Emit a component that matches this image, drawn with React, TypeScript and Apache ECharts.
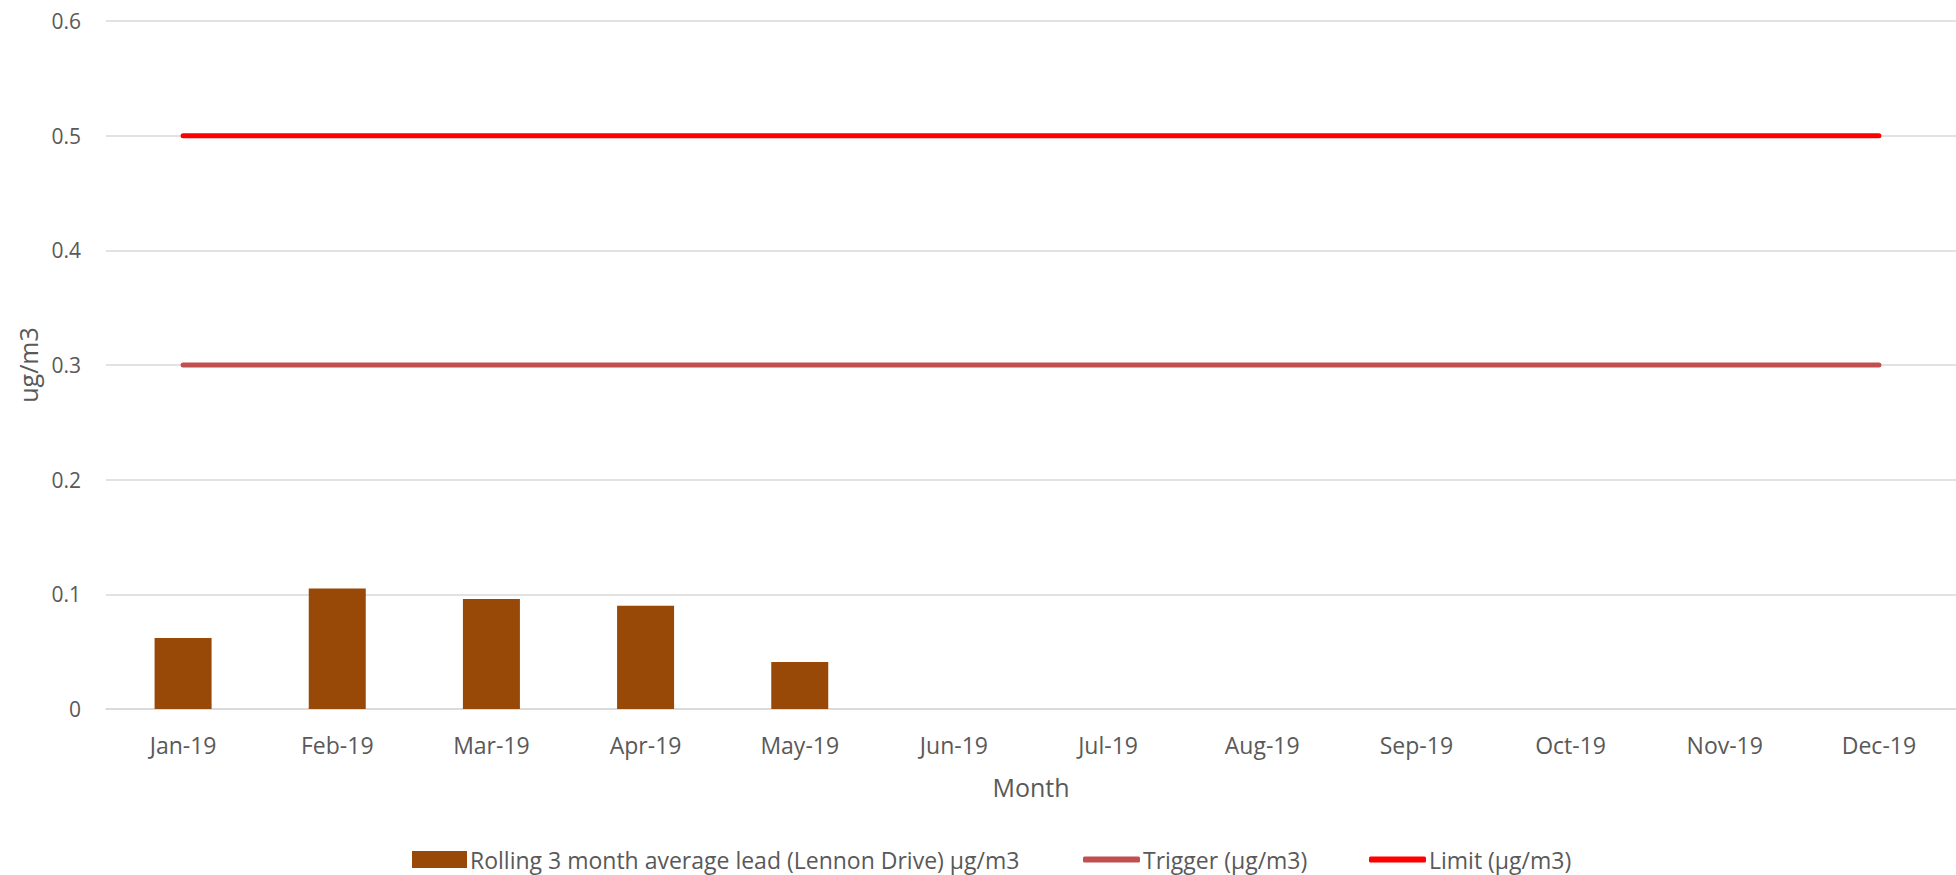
import React, { useEffect, useRef } from "react";
import * as echarts from "echarts";

const months = ["Jan-19", "Feb-19", "Mar-19", "Apr-19", "May-19", "Jun-19", "Jul-19", "Aug-19", "Sep-19", "Oct-19", "Nov-19", "Dec-19"];
const rollingLead = [0.062, 0.105, 0.096, 0.09, 0.041, null, null, null, null, null, null, null];
const trigger = [0.3, 0.3, 0.3, 0.3, 0.3, 0.3, 0.3, 0.3, 0.3, 0.3, 0.3, 0.3];
const limit = [0.5, 0.5, 0.5, 0.5, 0.5, 0.5, 0.5, 0.5, 0.5, 0.5, 0.5, 0.5];
const seriesNames = [
  "Rolling 3 month average lead (Lennon Drive) μg/m3",
  "Trigger (μg/m3)",
  "Limit (μg/m3)",
];

const FONT = "'Open Sans', 'Noto Sans', sans-serif";
const TXT = "#595959";

const legendText = { color: TXT, fontSize: 23, fontFamily: FONT, padding: [0, 0, 0, -2] };

export default function App() {
  const ref = useRef<HTMLDivElement>(null);
  useEffect(() => {
    if (!ref.current) return;
    const chart = echarts.init(ref.current, undefined, { renderer: "svg" });
    chart.setOption({
      animation: false,
      textStyle: { fontFamily: FONT },
      grid: { left: 106, right: -10, top: 21, bottom: 166 },
      legend: [
        {
          data: [{ name: seriesNames[0], icon: "rect" }],
          left: 407,
          top: 843,
          itemWidth: 55,
          itemHeight: 17,
          textStyle: legendText,
        },
        {
          data: [{ name: seriesNames[1], icon: "roundRect" }],
          left: 1078,
          top: 843,
          itemWidth: 57,
          itemHeight: 6,
          textStyle: legendText,
        },
        {
          data: [{ name: seriesNames[2], icon: "roundRect" }],
          left: 1364,
          top: 843,
          itemWidth: 57,
          itemHeight: 6,
          textStyle: legendText,
        },
      ],
      xAxis: {
        type: "category",
        data: months,
        name: "Month",
        nameLocation: "middle",
        nameGap: 65,
        nameTextStyle: { color: TXT, fontSize: 25, fontFamily: FONT },
        axisLine: { lineStyle: { color: "#D9D9D9", width: 1.5 } },
        axisTick: { show: false },
        axisLabel: { color: TXT, fontSize: 23, fontFamily: FONT, margin: 24 },
      },
      yAxis: {
        type: "value",
        min: 0,
        max: 0.6,
        interval: 0.1,
        name: "ug/m3",
        nameLocation: "middle",
        nameRotate: 90,
        nameGap: 66,
        nameTextStyle: { color: TXT, fontSize: 25, fontFamily: FONT },
        axisLine: { show: false },
        axisTick: { show: false },
        axisLabel: { color: TXT, fontSize: 21, fontFamily: FONT, margin: 25 },
        splitLine: { lineStyle: { color: "#D9D9D9", width: 1.5 } },
      },
      series: [
        {
          name: seriesNames[0],
          type: "bar",
          data: rollingLead,
          barWidth: 57,
          itemStyle: { color: "#984807" },
        },
        {
          name: seriesNames[1],
          type: "line",
          data: trigger,
          symbol: "none",
          lineStyle: { color: "#C0504D", width: 5, cap: "round" },
          itemStyle: { color: "#C0504D" },
        },
        {
          name: seriesNames[2],
          type: "line",
          data: limit,
          symbol: "none",
          lineStyle: { color: "#FF0000", width: 5, cap: "round" },
          itemStyle: { color: "#FF0000" },
        },
      ],
    });
    return () => chart.dispose();
  }, []);
  return (
    <div
      ref={ref}
      style={{ position: "absolute", left: 0, top: 0, width: 1956, height: 875, background: "#fff" }}
    />
  );
}
